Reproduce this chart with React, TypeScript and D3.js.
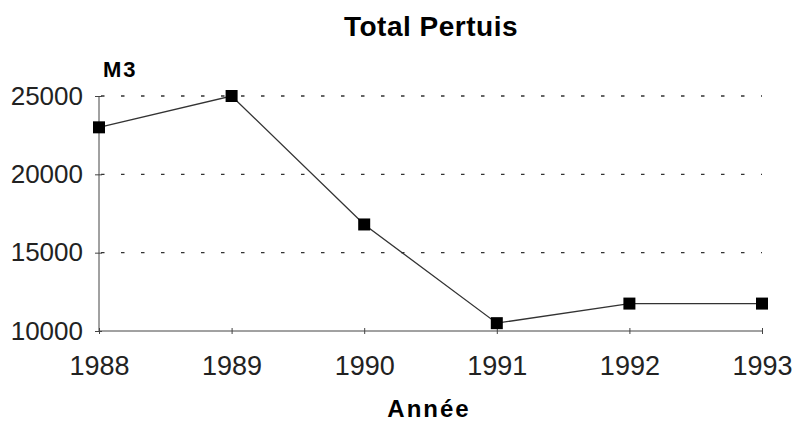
import { useEffect, useRef } from 'react'
import * as d3 from 'd3'

const years = [1988, 1989, 1990, 1991, 1992, 1993]
const volumes = [23000, 25000, 16800, 10500, 11750, 11750]
const yTicks = [10000, 15000, 20000, 25000]
const gridTicks = [15000, 20000, 25000]

const W = 792
const H = 422
const margin = { top: 96, right: 30, bottom: 91, left: 99 }
const font = '"Liberation Sans", Arial, sans-serif'

export default function App() {
  const svgRef = useRef<SVGSVGElement>(null)

  useEffect(() => {
    if (!svgRef.current) return
    const svg = d3.select(svgRef.current)
    svg.selectAll('*').remove()

    const innerW = W - margin.left - margin.right
    const innerH = H - margin.top - margin.bottom

    const x = d3.scaleLinear().domain([1988, 1993]).range([0, innerW])
    const y = d3.scaleLinear().domain([10000, 25000]).range([innerH, 0])

    const g = svg.append('g').attr('transform', `translate(${margin.left},${margin.top})`)

    // dotted gridlines
    g.selectAll('.grid')
      .data(gridTicks)
      .join('line')
      .attr('x1', 0)
      .attr('x2', innerW)
      .attr('y1', d => y(d))
      .attr('y2', d => y(d))
      .attr('stroke', '#333')
      .attr('stroke-width', 1.3)
      .attr('stroke-dasharray', '3.5,16.5')
      .attr('stroke-dashoffset', -22)

    // y axis
    const yAxis = g.append('g').call(
      d3.axisLeft(y).tickValues(yTicks).tickSize(4).tickPadding(12).tickFormat(d => String(d))
    )
    yAxis.selectAll('text').attr('font-size', 26).attr('font-family', font).attr('fill', '#222')
    yAxis.select('.domain').attr('stroke', '#444').attr('d', `M0,${innerH}V0`)
    yAxis.selectAll('.tick line').attr('stroke', '#444').attr('x1', 3)

    // x axis
    const xAxis = g.append('g')
      .attr('transform', `translate(0,${innerH})`)
      .call(d3.axisBottom(x).tickValues(years).tickSize(-3).tickPadding(24).tickFormat(d => String(d)))
    xAxis.selectAll('text').attr('font-size', 27).attr('font-family', font).attr('fill', '#222').attr('dy', '0.75em')
    xAxis.select('.domain').attr('stroke', '#444').attr('d', `M0,0H${innerW}`)
    xAxis.selectAll('.tick line').attr('stroke', '#444').attr('y1', 3)

    const pts = years.map((yr, i) => ({ yr, v: volumes[i] }))
    const line = d3.line<{ yr: number; v: number }>().x(d => x(d.yr)).y(d => y(d.v))

    g.append('path')
      .datum(pts)
      .attr('fill', 'none')
      .attr('stroke', '#333')
      .attr('stroke-width', 1.3)
      .attr('d', line)

    const s = 12
    g.selectAll('.pt')
      .data(pts)
      .join('rect')
      .attr('x', d => x(d.yr) - s / 2)
      .attr('y', d => y(d.v) - s / 2)
      .attr('width', s)
      .attr('height', s)
      .attr('fill', '#000')

    svg.append('text')
      .attr('x', 431)
      .attr('y', 36)
      .attr('text-anchor', 'middle')
      .attr('font-family', font)
      .attr('font-weight', 'bold')
      .attr('font-size', 28)
      .attr('letter-spacing', 0.5)
      .text('Total Pertuis')

    svg.append('text')
      .attr('x', 103)
      .attr('y', 77)
      .attr('font-family', font)
      .attr('font-weight', 'bold')
      .attr('font-size', 22)
      .attr('letter-spacing', 2)
      .text('M3')

    svg.append('text')
      .attr('x', 429)
      .attr('y', 417)
      .attr('text-anchor', 'middle')
      .attr('font-family', font)
      .attr('font-weight', 'bold')
      .attr('font-size', 24)
      .attr('letter-spacing', 2)
      .text('Année')
  }, [])

  return (
    <div style={{ position: 'absolute', left: 0, top: 0 }}>
      <svg ref={svgRef} width={W} height={H} style={{ display: 'block', background: '#fff' }} />
    </div>
  )
}
